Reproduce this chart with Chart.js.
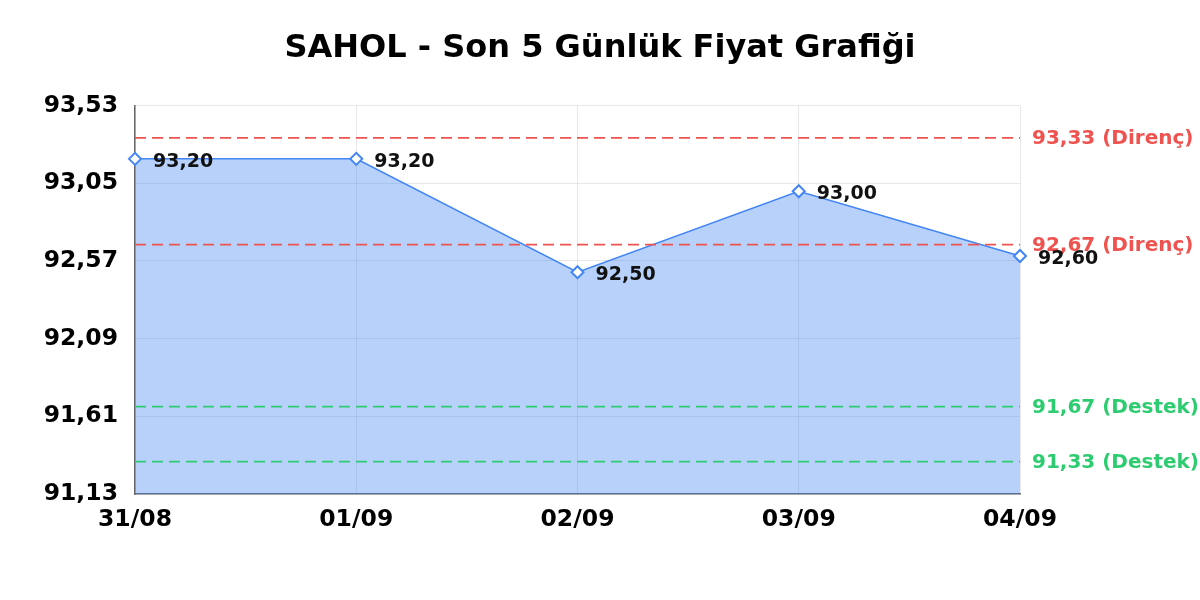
<!DOCTYPE html>
<html>
<head>
<meta charset="utf-8">
<script src="https://cdn.jsdelivr.net/npm/chart.js@4.4.1/dist/chart.umd.min.js"></script>
<style>
  html, body { margin: 0; padding: 0; background: #fff; }
  #wrap { width: 1200px; height: 600px; }
</style>
</head>
<body>
<div id="wrap"><canvas id="myChart" width="1200" height="600"></canvas></div>
<script>
// dates and closing prices
const days = ["31/08", "01/09", "02/09", "03/09", "04/09"];
const prices = [93.20, 93.20, 92.50, 93.00, 92.60];

// y axis ticks as printed on the picture
const yTicks = [91.13, 91.61, 92.09, 92.57, 93.05, 93.53];

// support / resistance levels
const levelValues = [93.33, 92.67, 91.67, 91.33];
const levelNames = ["Direnç", "Direnç", "Destek", "Destek"];
const levelColors = ["#ef5350", "#ef5350", "#2ecc71", "#2ecc71"];

const fmt = v => v.toFixed(2).replace(".", ",");

// dashed level lines + their labels right of the plot
const levelsPlugin = {
    id: "levels",
    afterDatasetsDraw(chart) {
        const ctx = chart.ctx;
        const area = chart.chartArea;
        const y = chart.scales.y;
        ctx.save();
        levelValues.forEach((v, i) => {
            const py = y.getPixelForValue(v);
            ctx.beginPath();
            ctx.setLineDash([11, 6]);
            ctx.lineWidth = 1.8;
            ctx.strokeStyle = levelColors[i];
            ctx.moveTo(area.left, py);
            ctx.lineTo(area.right, py);
            ctx.stroke();
            ctx.setLineDash([]);
            ctx.fillStyle = levelColors[i];
            ctx.font = "bold 20px 'DejaVu Sans'";
            ctx.textAlign = "left";
            ctx.textBaseline = "middle";
            ctx.fillText(fmt(v) + " (" + levelNames[i] + ")", area.right + 12, py + 1);
        });
        ctx.restore();
    }
};

// value labels next to each point
const pointLabels = {
    id: "pointLabels",
    afterDatasetsDraw(chart) {
        const ctx = chart.ctx;
        const meta = chart.getDatasetMeta(0);
        ctx.save();
        ctx.fillStyle = "#111";
        ctx.font = "bold 19px 'DejaVu Sans'";
        ctx.textAlign = "left";
        ctx.textBaseline = "middle";
        meta.data.forEach((pt, i) => {
            ctx.fillText(fmt(prices[i]), pt.x + 18, pt.y + 3);
        });
        ctx.restore();
    }
};

new Chart("myChart", {
    type: "line",
    data: {
        labels: days,
        datasets: [
            {
                data: prices,
                borderColor: "#4285f4",
                borderWidth: 1.5,
                backgroundColor: "rgba(66,133,244,0.38)",
                fill: "start",
                tension: 0,
                pointStyle: "rectRot",
                pointRadius: 6,
                pointBorderWidth: 2,
                pointBackgroundColor: "#fff",
                pointBorderColor: "#4285f4",
            },
        ],
    },
    options: {
        responsive: false,
        animation: false,
        devicePixelRatio: 1,
        layout: { padding: 0 },
        plugins: {
            legend: { display: false },
            tooltip: { enabled: false },
            title: {
                display: true,
                text: "SAHOL - Son 5 Günlük Fiyat Grafiği",
                color: "#000",
                font: { family: "DejaVu Sans", size: 32, weight: "bold" },
                padding: { top: 29, bottom: 38 },
            },
        },
        scales: {
            x: {
                offset: false,
                grid: { color: "rgba(0,0,0,0.09)", drawTicks: false },
                border: { color: "#666", width: 1.5 },
                ticks: {
                    color: "#000",
                    padding: 12,
                    maxRotation: 0,
                    font: { family: "DejaVu Sans", size: 23.5, weight: "bold" },
                },
                afterFit: s => { s.height = 106; },
            },
            y: {
                min: yTicks[0],
                max: yTicks[yTicks.length - 1],
                grid: { color: "rgba(0,0,0,0.09)", drawTicks: false },
                border: { color: "#666", width: 1.5 },
                afterBuildTicks: s => { s.ticks = yTicks.map(v => ({ value: v })); },
                ticks: {
                    color: "#000",
                    padding: 17,
                    callback: v => fmt(v),
                    font: { family: "DejaVu Sans", size: 23.5, weight: "bold" },
                },
                afterFit: s => { s.width = 135; },
            },
            // empty right axis, only reserves room for the level labels
            yRight: {
                position: "right",
                display: true,
                min: yTicks[0],
                max: yTicks[yTicks.length - 1],
                grid: { display: false },
                border: { display: false },
                ticks: { display: false },
                afterFit: s => { s.width = 180; },
            },
        },
    },
    plugins: [levelsPlugin, pointLabels],
});
</script>
</body>
</html>
